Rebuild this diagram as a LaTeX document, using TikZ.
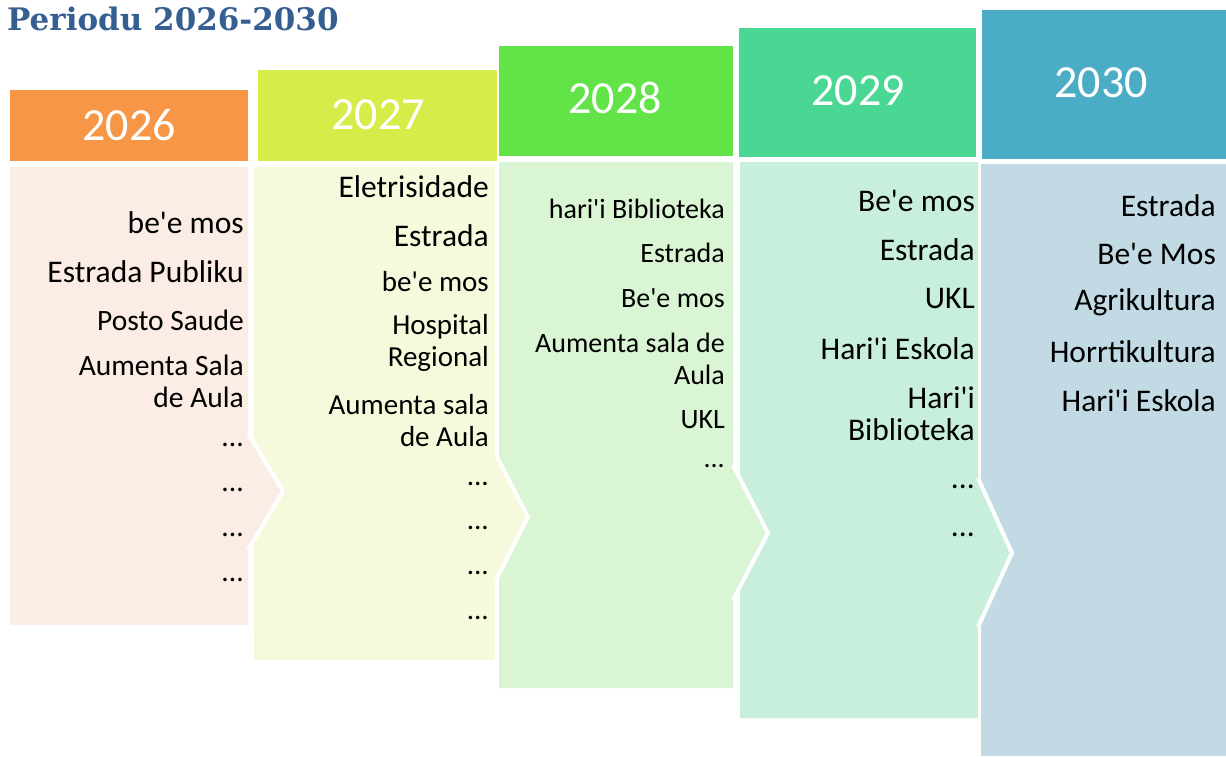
\documentclass[tikz,border=0pt]{standalone}
\usepackage{fontspec}
\newfontfamily\carl{Carlito}
\newfontfamily\titlefont{DejaVu Serif}
\definecolor{titleblue}{HTML}{365F91}
\definecolor{hA}{HTML}{F79646}\definecolor{bA}{HTML}{FBECE6}
\definecolor{hB}{HTML}{D6EC49}\definecolor{bB}{HTML}{F6F9DB}
\definecolor{hC}{HTML}{62E348}\definecolor{bC}{HTML}{DAF5D3}
\definecolor{hD}{HTML}{4AD794}\definecolor{bD}{HTML}{C8EEDC}
\definecolor{hE}{HTML}{4BACC6}\definecolor{bE}{HTML}{C2DAE4}
\newcommand{\dd}{{.}{.}{.}}
\begin{document}
\begin{tikzpicture}[x=1pt,y=-1pt,
  year/.style={font=\carl\fontsize{46}{50}\selectfont,text=white,inner sep=0},
  item/.style={font=\carl\fontsize{31.5}{32}\selectfont,align=right,anchor=east,inner sep=0,text=black},
  fs/.style={font=\carl\fontsize{#1}{32}\selectfont},
  sep/.style={draw=white,line width=4pt,line join=miter}]
\useasboundingbox (0,0) rectangle (1226,756);
% bodies, drawn from last to first
\fill[bE] (981,164) rectangle (1226,756);
\fill[bD] (740,162) -- (978,162) -- (978,480) -- (1012,553) -- (978,625) -- (978,718) -- (740,718) -- cycle;
\draw[sep] (978,478) -- (1012,553) -- (978,627);
\fill[bC] (499,162) -- (733,162) -- (733,467) -- (768,533) -- (733,598) -- (733,688) -- (499,688) -- cycle;
\draw[sep] (733,465) -- (768,533) -- (733,600);
\fill[bB] (254,167) -- (495,167) -- (495,455) -- (528,517) -- (495,580) -- (495,660) -- (254,660) -- cycle;
\draw[sep] (495,453) -- (528,517) -- (495,582);
\fill[bA] (10,167) -- (248,167) -- (248,435) -- (283,491) -- (248,548) -- (248,625) -- (10,625) -- cycle;
\draw[sep] (248,433) -- (283,491) -- (248,550);
% headers
\fill[hA] (10,90) rectangle (248,161);
\fill[hB] (258,70) rectangle (497,161);
\fill[hC] (499,46) rectangle (733,156);
\fill[hD] (739,28) rectangle (976,157);
\fill[hE] (982,10) rectangle (1226,159);
% title
\node[anchor=base west,inner sep=0,text=titleblue,font=\titlefont\bfseries\fontsize{31}{36}\selectfont] (title) at (7,30) {Periodu 2026-2030};
% years
\node[year] (y26) at (129,125) {2026};
\node[year] (y27) at (378,115) {2027};
\node[year] (y28) at (615,98) {2028};
\node[year] (y29) at (858,91) {2029};
\node[year] (y30) at (1101,83) {2030};
% 2026 items
\node[item] (a1) at (244,223) {be'e mos};
\node[item] (a2) at (244,272) {Estrada Publiku};
\node[item,fs=29.5] (a3) at (244,320) {Posto Saude};
\node[item,fs=29.5] (a4) at (244,381) {Aumenta Sala\\de Aula};
\node[item,fs=29.5] (a5) at (244,445) {\dd};
\node[item,fs=29.5] (a6) at (244,490) {\dd};
\node[item,fs=29.5] (a7) at (244,535) {\dd};
\node[item,fs=29.5] (a8) at (244,580) {\dd};
% 2027 items
\node[item] (b1) at (489,187) {Eletrisidade};
\node[item] (b2) at (489,236) {Estrada};
\node[item,fs=29] (b3) at (489,282) {be'e mos};
\node[item,fs=29] (b4) at (489,343) {Hospital\\Regional};
\node[item,fs=29] (b5) at (489,421) {Aumenta sala\\de Aula};
\node[item,fs=29] (b6) at (489,484) {\dd};
\node[item,fs=29] (b7) at (489,528) {\dd};
\node[item,fs=29] (b8) at (489,573) {\dd};
\node[item,fs=29] (b9) at (489,618) {\dd};
% 2028 items
\node[item,fs=28] (c1) at (725,209) {hari'i Biblioteka};
\node[item,fs=28] (c2) at (725,253) {Estrada};
\node[item,fs=28] (c3) at (725,298) {Be'e mos};
\node[item,fs=28] (c4) at (725,359) {Aumenta sala de\\Aula};
\node[item,fs=28] (c5) at (725,420) {UKL};
\node[item,fs=28] (c6) at (725,466) {\dd};
% 2029 items
\node[item] (d1) at (975,201) {Be'e mos};
\node[item] (d2) at (975,250) {Estrada};
\node[item] (d3) at (975,299) {UKL};
\node[item] (d4) at (975,349) {Hari'i Eskola};
\node[item] (d5) at (975,414) {Hari'i\\Biblioteka};
\node[item] (d6) at (975,487) {\dd};
\node[item] (d7) at (975,535) {\dd};
% 2030 items
\node[item] (e1) at (1216,206) {Estrada};
\node[item] (e2) at (1216,254) {Be'e Mos};
\node[item] (e3) at (1216,302) {Agrikultura};
\node[item] (e4) at (1216,352) {Horrtikultura};
\node[item] (e5) at (1216,401) {Hari'i Eskola};
\end{tikzpicture}
\end{document}
